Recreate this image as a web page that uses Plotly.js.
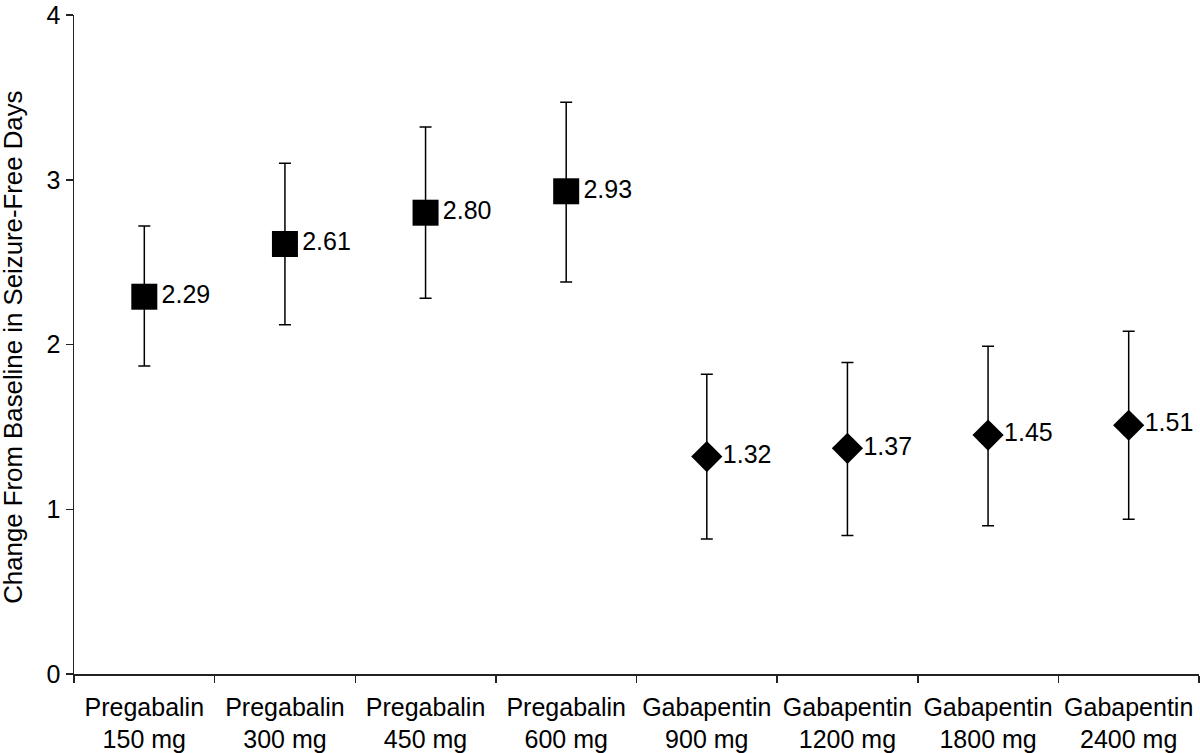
<!DOCTYPE html>
<html>
<head>
<meta charset="utf-8">
<script src="https://cdn.plot.ly/plotly-3.0.1.min.js"></script>
<style>
  html, body { margin: 0; padding: 0; background: #fff; }
  #chart { width: 1200px; height: 753px; }
</style>
</head>
<body>
<div id="chart"></div>
<script>
// dose groups, in the order shown on the x axis
var pregabalinLabels = ['Pregabalin<br>150 mg', 'Pregabalin<br>300 mg', 'Pregabalin<br>450 mg', 'Pregabalin<br>600 mg'];
var gabapentinLabels = ['Gabapentin<br>900 mg', 'Gabapentin<br>1200 mg', 'Gabapentin<br>1800 mg', 'Gabapentin<br>2400 mg'];

// change from baseline in seizure-free days, with interval limits
var pregabalinMean  = [2.29, 2.61, 2.80, 2.93];
var pregabalinUpper = [2.72, 3.10, 3.32, 3.47];
var pregabalinLower = [1.87, 2.12, 2.28, 2.38];

var gabapentinMean  = [1.32, 1.37, 1.45, 1.51];
var gabapentinUpper = [1.82, 1.89, 1.99, 2.08];
var gabapentinLower = [0.82, 0.84, 0.90, 0.94];

var yTitle = 'Change From Baseline in Seizure-Free Days';

var FONT = 'Liberation Sans, Arial, Helvetica, sans-serif';

function makeTrace(cats, mean, upper, lower, symbol, size) {
	return {
		type: 'scatter',
		mode: 'markers+text',
		x: cats,
		y: mean,
		text: mean.map(function (v) { return v.toFixed(2); }),
		textposition: 'middle right',
		textfont: { family: FONT, size: 25, color: '#000' },
		marker: { symbol: symbol, size: size, color: '#000' },
		error_y: {
			type: 'data',
			symmetric: false,
			array: upper.map(function (u, i) { return u - mean[i]; }),
			arrayminus: lower.map(function (l, i) { return mean[i] - l; }),
			color: '#000',
			thickness: 1.5,
			width: 6
		},
		cliponaxis: false,
		hoverinfo: 'skip'
	};
}

var data = [
	makeTrace(pregabalinLabels, pregabalinMean, pregabalinUpper, pregabalinLower, 'square', 26),
	makeTrace(gabapentinLabels, gabapentinMean, gabapentinUpper, gabapentinLower, 'diamond', 24)
];

var layout = {
	width: 1200,
	height: 753,
	margin: { l: 74, r: 1, t: 15, b: 79 },
	paper_bgcolor: '#fff',
	plot_bgcolor: '#fff',
	showlegend: false,
	font: { family: FONT, size: 24, color: '#000' },
	xaxis: {
		type: 'category',
		categoryorder: 'array',
		categoryarray: pregabalinLabels.concat(gabapentinLabels),
		range: [-0.5, 7.5],
		automargin: false,
		showline: true,
		linecolor: '#222',
		linewidth: 1.5,
		showgrid: false,
		zeroline: false,
		ticks: 'outside',
		tickson: 'boundaries',
		ticklen: 7,
		tickwidth: 1.5,
		tickcolor: '#222',
		ticklabelstandoff: 10,
		tickfont: { family: FONT, size: 25, color: '#000' }
	},
	yaxis: {
		range: [0, 4],
		dtick: 1,
		automargin: false,
		showline: true,
		linecolor: '#222',
		linewidth: 1.5,
		showgrid: false,
		zeroline: false,
		ticks: 'outside',
		ticklen: 7,
		tickwidth: 1.5,
		tickcolor: '#222',
		tickfont: { family: FONT, size: 25, color: '#000' }
	},
	// axis title as an annotation so it can sit closer to the page edge
	annotations: [{
		text: yTitle,
		xref: 'paper',
		yref: 'paper',
		x: -61 / 1125,
		y: 0.495,
		xanchor: 'center',
		yanchor: 'middle',
		textangle: -90,
		showarrow: false,
		font: { family: FONT, size: 25.8, color: '#000' }
	}]
};

Plotly.newPlot('chart', data, layout, { displayModeBar: false, staticPlot: true });
</script>
</body>
</html>
